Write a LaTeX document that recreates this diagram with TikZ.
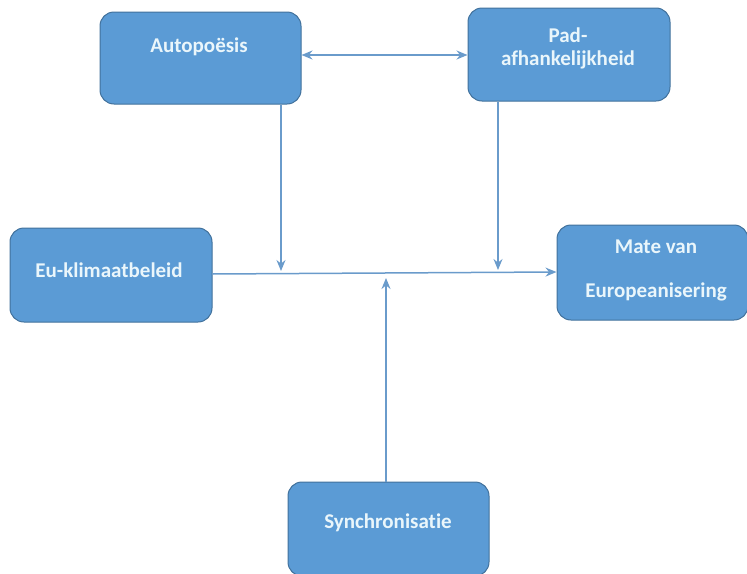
\documentclass[tikz,border=0pt]{standalone}
\usepackage{fontspec}
\setmainfont{Carlito}[Ligatures=NoCommon]
\usetikzlibrary{arrows.meta}
\definecolor{boxfill}{HTML}{5B9BD5}
\definecolor{boxedge}{HTML}{41719C}
\definecolor{linkcol}{HTML}{6A9BCB}
\definecolor{labelcol}{HTML}{EAF6FB}
\begin{document}
\begin{tikzpicture}[x=1pt,y=-1pt,
  blockbox/.style={draw=boxedge,line width=1pt,fill=boxfill,rounded corners=14pt,
    minimum width=#1,inner sep=0pt},
  blocktext/.style={text=labelcol,font=\fontsize{21}{23}\selectfont\bfseries,inner sep=0pt,anchor=center},
  link/.style={draw=linkcol,line width=1.5pt,-{Stealth[length=11pt,width=9pt]}},
  twoway/.style={draw=linkcol,line width=1.5pt,{Stealth[length=11pt,width=9pt]}-{Stealth[length=11pt,width=9pt]}}]
\useasboundingbox (0,0) rectangle (747,573);

% boxes
\node[blockbox=201pt,minimum height=92pt] (auto) at (200.5,58) {};
\node[blockbox=202pt,minimum height=93pt] (pad) at (569,54.5) {};
\node[blockbox=202pt,minimum height=94pt] (eu) at (111,275) {};
\node[blockbox=191pt,minimum height=95pt] (mate) at (652.5,272.5) {};
\node[blockbox=201pt,minimum height=94pt] (sync) at (388.5,529) {};

% labels
\node[blocktext] (autot) at (199,47) {Autopoësis};
\node[blocktext] (padt1) at (568,35) {Pad-};
\node[blocktext] (padt2) at (568,60) {afhankelijkheid};
\node[blocktext] (eut) at (109,270) {Eu-klimaatbeleid};
\node[blocktext] (matet1) at (656,247) {Mate van};
\node[blocktext] (matet2) at (656,292) {Europeanisering};
\node[blocktext] (synct) at (388,523) {Synchronisatie};

% points on the central line
\coordinate (hitA) at (281,271);
\coordinate (hitP) at (498,270);
\coordinate (hitS) at (386,278);

% connectors
\draw[twoway] (auto.east |- 0,55) -- (pad.west |- 0,55);
\draw[link] (auto.south -| hitA) -- (hitA);
\draw[link] (pad.south -| hitP) -- (hitP);
\draw[link] (eu.east |- 0,274) -- (mate.west |- 0,272);
\draw[link] (sync.north -| hitS) -- (hitS);
\end{tikzpicture}
\end{document}
